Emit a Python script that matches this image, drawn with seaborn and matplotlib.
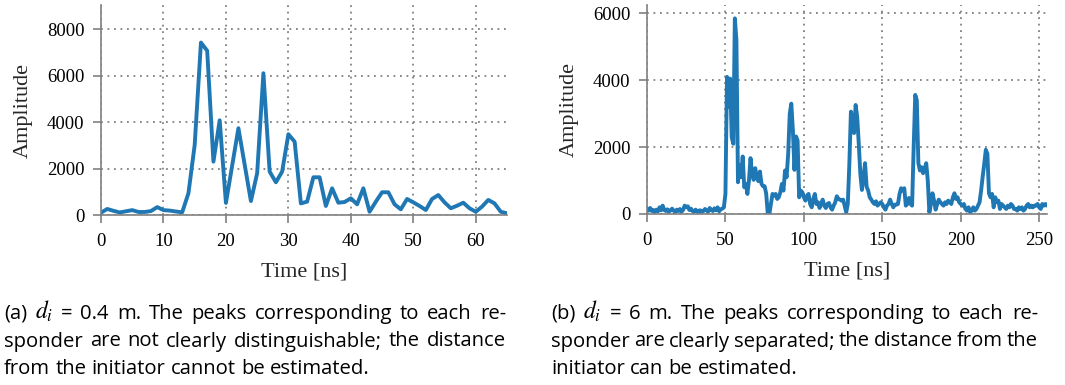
import numpy as np
import pandas as pd
import matplotlib
matplotlib.use("Agg")
import matplotlib.pyplot as plt
import seaborn as sns

# ---------------- data ----------------
# (a) d_i = 0.4 m, one CIR sample per ns
time_a = list(range(0, 66))
amp_a = [100, 260, 180, 110, 160, 210, 130, 130, 170, 340,
         210, 190, 150, 115, 940, 3020, 7430, 7080, 2300, 4080,
         520, 2130, 3740, 2170, 600, 1800, 6110, 1870, 1410, 1870,
         3480, 3160, 500, 575, 1625, 1625, 390, 1150, 530, 560,
         720, 460, 1150, 140, 575, 980, 980, 460, 245, 690,
         545, 390, 215, 690, 860, 545, 290, 400, 530, 290,
         140, 360, 650, 500, 140, 75]

# (b) d_i = 6 m
time_b = list(range(0, 256))
amp_b = [150, 100, 180, 90, 120, 60, 130, 80, 200, 110,
         250, 120, 90, 140, 70, 110, 160, 100, 60, 130,
         90, 150, 70, 120, 250, 200, 230, 120, 160, 90,
         80, 130, 60, 100, 110, 60, 90, 150, 100, 70,
         180, 120, 90, 170, 110, 200, 80, 140, 160, 200,
         600, 4100, 3200, 4050, 2300, 2100, 5850, 5200, 950, 1470,
         1100, 1720, 800, 900, 600, 1000, 1670, 1200, 1020, 1370,
         1100, 980, 1270, 900, 830, 830, 600, 0, 0, 300,
         600, 550, 600, 450, 500, 650, 900, 700, 1300, 1100,
         1800, 3000, 3300, 2500, 1320, 2320, 2200, 500, 700, 650,
         500, 400, 550, 600, 300, 200, 450, 600, 300, 350,
         180, 300, 430, 250, 180, 300, 330, 200, 130, 250,
         350, 530, 450, 430, 400, 430, 250, 50, 300, 1500,
         3060, 2800, 2420, 3260, 2900, 2100, 1200, 720, 1100, 1520,
         820, 700, 500, 430, 350, 300, 380, 250, 300, 350,
         300, 200, 130, 250, 300, 430, 300, 200, 280, 280,
         300, 600, 770, 700, 770, 250, 300, 480, 300, 250,
         2000, 3560, 3400, 1520, 1300, 1400, 1220, 1350, 1520, 1000,
         50, 300, 620, 400, 130, 300, 430, 350, 300, 250,
         350, 300, 400, 350, 300, 500, 620, 450, 500, 350,
         300, 250, 300, 150, 100, 200, 50, 100, 200, 100,
         150, 250, 350, 700, 1120, 1500, 1920, 1800, 620, 500,
         600, 200, 500, 350, 400, 150, 300, 250, 200, 150,
         250, 200, 300, 250, 150, 150, 100, 200, 150, 200,
         100, 150, 250, 300, 200, 250, 200, 250, 250, 300,
         200, 150, 300, 250, 300, 250]

xticks_a = [0, 10, 20, 30, 40, 50, 60]
yticks_a = [0, 2000, 4000, 6000, 8000]
xticks_b = [0, 50, 100, 150, 200, 250]
yticks_b = [0, 2000, 4000, 6000]

x_label = "Time [ns]"
y_label = "Amplitude"

caption_a = ["(a) $d_i$ = 0.4 m. The peaks corresponding to each re-",
             "sponder are not clearly distinguishable; the distance",
             "from the initiator cannot be estimated."]
caption_b = ["(b) $d_i$ = 6 m. The peaks corresponding to each re-",
             "sponder are clearly separated; the distance from the",
             "initiator can be estimated."]

# ---------------- style ----------------
sns.set_theme(style="white")
plt.rcParams["font.family"] = ["Liberation Serif", "DejaVu Serif"]
plt.rcParams["mathtext.fontset"] = "stix"

W, H = 1065, 385
fig = plt.figure(figsize=(W / 100, H / 100), dpi=100)

LINE = "#1f77b4"
GRAY = "#808080"


def px_axes(x0, y_top, x1, y_bot):
    return fig.add_axes([x0 / W, 1 - y_bot / H, (x1 - x0) / W, (y_bot - y_top) / H])


def style_axes(ax, xlim, ylim, xticks, yticks):
    ax.set_xlim(*xlim)
    ax.set_ylim(*ylim)
    ax.set_xticks(xticks)
    ax.set_yticks(yticks)
    ax.set_xticklabels([str(v) for v in xticks])
    ax.set_yticklabels([str(v) for v in yticks])
    for s in ["top", "right"]:
        ax.spines[s].set_visible(False)
    for s in ["left", "bottom"]:
        ax.spines[s].set_color(GRAY)
        ax.spines[s].set_linewidth(1.2)
    ax.tick_params(axis="both", which="major", direction="out", length=6,
                   width=1.2, color=GRAY, labelsize=13.5, labelcolor="black",
                   bottom=True, left=True)
    ax.tick_params(axis="x", pad=7)
    ax.tick_params(axis="y", pad=6)
    ax.grid(True, color=GRAY, linestyle=(0, (1.0, 2.6)), linewidth=1.3)
    ax.set_axisbelow(True)
    ax.set_xlabel(x_label, fontsize=16, labelpad=9)
    ax.set_ylabel(y_label, fontsize=16, labelpad=10)


ax_a = px_axes(101, 5, 507, 215)
df_a = pd.DataFrame({"t": time_a, "amp": amp_a})
sns.lineplot(data=df_a, x="t", y="amp", ax=ax_a, color=LINE, linewidth=2.8)
style_axes(ax_a, (0, 65), (0, 9050), xticks_a, yticks_a)

ax_b = px_axes(647, 5, 1047, 214)
df_b = pd.DataFrame({"t": time_b, "amp": amp_b})
sns.lineplot(data=df_b, x="t", y="amp", ax=ax_b, color=LINE, linewidth=2.8)
style_axes(ax_b, (0, 255), (0, 6250), xticks_b, yticks_b)

# ---------------- captions (justified) ----------------
renderer = fig.canvas.get_renderer()
CAP_FONT = dict(family=["Open Sans", "DejaVu Sans"], fontsize=14.6, color="black")
MATH_SIZE = 17


def caption(lines, x0, x1, y0, dy):
    sp1 = fig.text(0, 0, "a b", **CAP_FONT)
    sp2 = fig.text(0, 0, "ab", **CAP_FONT)
    natural_gap = sp1.get_window_extent(renderer).width - sp2.get_window_extent(renderer).width
    sp1.remove()
    sp2.remove()
    for i, line in enumerate(lines):
        yb = 1 - (y0 + i * dy) / H
        words = line.split(" ")
        texts = []
        for w in words:
            kw = dict(CAP_FONT)
            if w.startswith("$"):
                kw["fontsize"] = MATH_SIZE
            texts.append(fig.text(0, yb, w, ha="left", va="baseline", **kw))
        widths = [t.get_window_extent(renderer).width for t in texts]
        if i == len(lines) - 1:
            gap = natural_gap
        else:
            gap = (x1 - x0 - sum(widths)) / (len(words) - 1)
        x = x0
        for t, w in zip(texts, widths):
            t.set_x(x / W)
            x += w + gap


caption(caption_a, 4, 506, 319, 27.5)
caption(caption_b, 551, 1038, 319, 27.5)

fig.savefig("out.png", dpi=100)
